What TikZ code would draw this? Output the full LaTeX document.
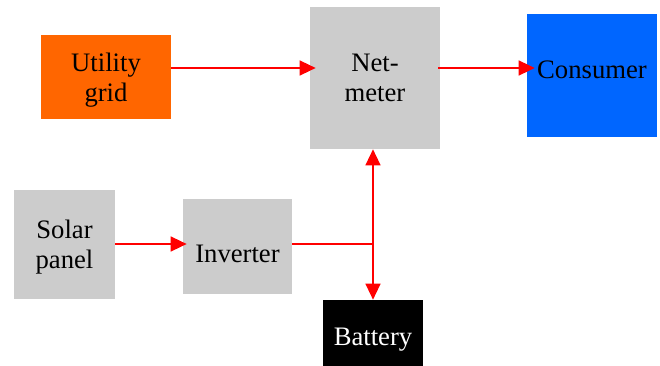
\documentclass[tikz,border=0pt]{standalone}
\usepackage{fontspec}
\setmainfont{Liberation Serif}
\newfontfamily\blockfont{Liberation Serif}
\usetikzlibrary{arrows.meta,calc}
\definecolor{gridorange}{HTML}{FF6600}
\definecolor{boxgray}{HTML}{CCCCCC}
\definecolor{consblue}{HTML}{0066FF}
\definecolor{wirered}{HTML}{FF0000}
\newcommand\pxu{0.75pt}
\tikzset{
  blk/.style={rectangle, inner sep=0pt, draw=none},
  txt/.style={inner sep=0pt, align=center,
    font=\blockfont\fontsize{20}{22.5}\selectfont},
  wire/.style={draw=wirered, line width=1.7pt},
  arr/.style={wire, -{Triangle[length=12pt,width=11pt]}},
  arrboth/.style={wire, {Triangle[length=12pt,width=11pt]}-{Triangle[length=12pt,width=11pt]}},
}
\begin{document}
\begin{tikzpicture}[x=0.75pt,y=-0.75pt]
\useasboundingbox (0,0) rectangle (660,366);

% blocks
\node[blk, fill=gridorange, minimum width=130*\pxu, minimum height=84*\pxu] (util) at (106,77) {};
\node[blk, fill=boxgray, minimum width=130*\pxu, minimum height=142*\pxu] (net) at (375,78) {};
\node[blk, fill=consblue, minimum width=130*\pxu, minimum height=123*\pxu] (cons) at (592,75.5) {};
\node[blk, fill=boxgray, minimum width=109*\pxu, minimum height=95*\pxu] (inv) at (237.5,246.5) {};
\node[blk, fill=boxgray, minimum width=101*\pxu, minimum height=109*\pxu] (solar) at (64.5,244.5) {};
\node[blk, fill=black, minimum width=100*\pxu, minimum height=66*\pxu] (batt) at (373,333) {};

% block captions
\node[txt] (utilT) at ([yshift=-2.1pt]util.center) {Utility\\grid};
\node[txt] (netT) at (net.center) {Net-\\meter};
\node[txt] (consT) at ([yshift=4.5pt]cons.center) {Consumer};
\node[txt] (invT) at ([yshift=-5.6pt]inv.center) {Inverter};
\node[txt] (solarT) at ([yshift=-1.7pt]solar.center) {Solar\\panel};
\node[txt, text=white] (battT) at ([yshift=-5.2pt]batt.center) {Battery};

% connector rows
\coordinate (row1) at (0,68);
\coordinate (row2) at (0,244);
\coordinate (j) at (batt.north |- row2);

\draw[arr] (util.east |- row1) -- ([xshift=6*\pxu]net.west |- row1);
\draw[arr] ([xshift=-2*\pxu]net.east |- row1) -- ([xshift=8*\pxu]cons.west |- row1);
\draw[arr] (solar.east |- row2) -- ([xshift=4*\pxu]inv.west |- row2);
\draw[wire] (inv.east |- row2) -- (j);
\draw[arrboth] (batt.north |- net.south) -- (batt.north);
\end{tikzpicture}
\end{document}
